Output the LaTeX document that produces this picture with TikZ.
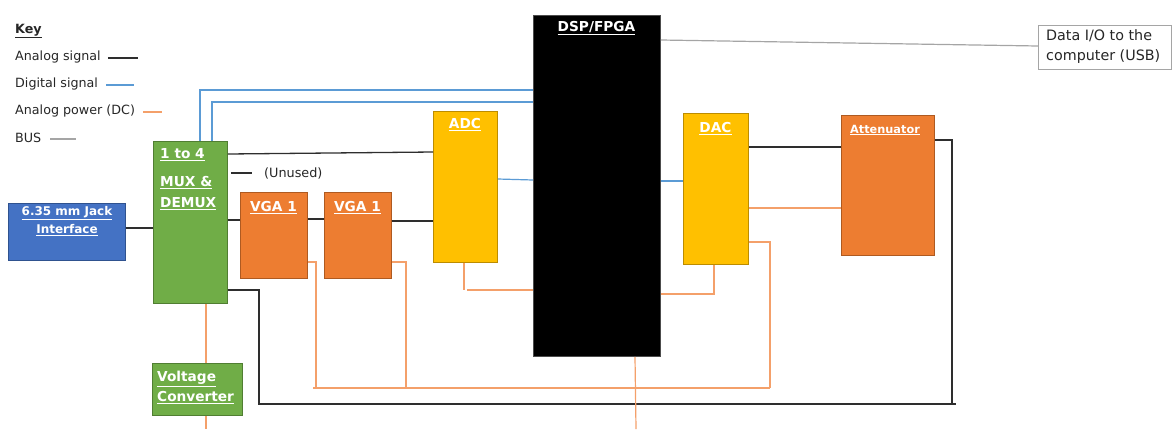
\documentclass[tikz,border=0pt]{standalone}
\usepackage{fontspec}
\setmainfont{DejaVu Sans}
\usetikzlibrary{calc}
\definecolor{cgreen}{HTML}{70AD47}
\definecolor{cgreenb}{HTML}{507E32}
\definecolor{corange}{HTML}{ED7D31}
\definecolor{coranged}{HTML}{AE5A21}
\definecolor{cyellow}{HTML}{FFC000}
\definecolor{cyellowd}{HTML}{BC8C00}
\definecolor{cblue}{HTML}{4472C4}
\definecolor{cblued}{HTML}{2F528F}
\definecolor{cdig}{HTML}{5B9BD5}
\definecolor{cpow}{HTML}{F4A06A}
\definecolor{cbus}{HTML}{A5A5A5}
\definecolor{cana}{HTML}{2E2E2E}
\begin{document}
\begin{tikzpicture}[x=1pt,y=-1pt,
  blk/.style={draw, line width=0.9pt, anchor=north west, inner sep=0pt},
  greenblk/.style={blk, fill=cgreen, draw=cgreenb},
  orangeblk/.style={blk, fill=corange, draw=coranged},
  yellowblk/.style={blk, fill=cyellow, draw=cyellowd},
  blueblk/.style={blk, fill=cblue, draw=cblued},
  title/.style={font=\bfseries\fontsize{13.7}{16}\selectfont, text=white, inner sep=0pt},
  keytext/.style={font=\fontsize{12.7}{15}\selectfont, anchor=west, inner sep=0pt, text=black!85},
  analog/.style={draw=cana, line width=1.3pt},
  digital/.style={draw=cdig, line width=1.2pt},
  power/.style={draw=cpow, line width=1.2pt},
  bus/.style={draw=cbus, line width=1.2pt}
]
\useasboundingbox (0,0) rectangle (1172,429);

% Key
\node[keytext, font=\bfseries\fontsize{12.7}{15}\selectfont] (key) at (15,31) {\underline{Key}};
\node[keytext] (ka) at (15,57) {Analog signal};
\node[keytext] (kd) at (15,84) {Digital signal};
\node[keytext] (kp) at (15,111) {Analog power (DC)};
\node[keytext] (kb) at (15,138) {BUS};
\draw[analog] ([xshift=7pt,yshift=-1pt]ka.east) -- ++(30,0);
\draw[digital] ([xshift=8pt,yshift=-1pt]kd.east) -- ++(28,0);
\draw[power] ([xshift=8pt,yshift=-1pt]kp.east) -- ++(19,0);
\draw[bus] ([xshift=9pt,yshift=-1pt]kb.east) -- ++(26,0);

% Blocks
\node[blueblk, minimum width=117pt, minimum height=57pt] (jack) at (8,203) {};
\node[greenblk, minimum width=74pt, minimum height=162pt] (mux) at (153,141) {};
\node[greenblk, minimum width=90pt, minimum height=52pt] (vc) at (152,363) {};
\node[orangeblk, minimum width=67pt, minimum height=86pt] (vgaa) at (240,192) {};
\node[orangeblk, minimum width=67pt, minimum height=86pt] (vgab) at (324,192) {};
\node[yellowblk, minimum width=64pt, minimum height=151pt] (adc) at (433,111) {};
\node[blk, fill=black, draw=black!70, minimum width=127pt, minimum height=341pt] (dsp) at (533,15) {};
\node[yellowblk, minimum width=65pt, minimum height=151pt] (dac) at (683,113) {};
\node[orangeblk, minimum width=93pt, minimum height=140pt] (att) at (841,115) {};
\node[blk, fill=white, draw=cbus, line width=0.8pt, minimum width=133pt, minimum height=44pt] (dio) at (1038,25) {};

% Titles
\node[title, font=\bfseries\fontsize{12}{14}\selectfont] (tjack1) at (67,213) {\underline{6.35 mm Jack}};
\node[title, font=\bfseries\fontsize{12}{14}\selectfont] (tjack2) at (67,230) {\underline{Interface}};
\node[title, anchor=west] (tmux1) at (160,155) {\underline{1 to 4}};
\node[title, anchor=west] (tmux2) at (160,183) {\underline{MUX \&}};
\node[title, anchor=west] (tmux3) at (160,204) {\underline{DEMUX}};
\node[title, anchor=west] (tvc1) at (157,379) {\underline{Voltage}};
\node[title, anchor=west] (tvc2) at (157,398) {\underline{Converter}};
\node[title] (tvgaa) at (273.5,208) {\underline{VGA 1}};
\node[title] (tvgab) at (357.5,208) {\underline{VGA 1}};
\node[title] (tadc) at (465,125) {\underline{ADC}};
\node[title] (tdsp) at (596.5,28) {\underline{DSP/FPGA}};
\node[title] (tdac) at (715.5,129) {\underline{DAC}};
\node[title, font=\bfseries\fontsize{11.3}{13}\selectfont] (tatt) at (885,130) {\underline{Attenuator}};
\node[keytext, font=\fontsize{14.3}{20}\selectfont, align=left, anchor=north west] (tdio) at (1046,29) {Data I/O to the\\computer (USB)};

% Analog signal connectors
\draw[analog] (jack.east |- 0,228) -- (mux.west |- 0,228);
\draw[analog] (mux.east |- 0,154) -- (adc.west |- 0,152);
\node[keytext, font=\fontsize{12.8}{15}\selectfont] (unused) at (264,173) {(Unused)};
\draw[analog] (mux.east |- 0,173) ++(3,0) -- ([xshift=-12pt]unused.west);
\draw[analog] (mux.east |- 0,220) -- (vgaa.west |- 0,220);
\draw[analog] (vgaa.east |- 0,219) -- (vgab.west |- 0,219);
\draw[analog] (vgab.east |- 0,221) -- (adc.west |- 0,221);
\draw[analog] (dac.east |- 0,147) -- (att.west |- 0,147);
\draw[analog] (mux.east |- 0,290) -| (259,404) -| (952,140) -- (att.east |- 0,140);
\draw[analog] (952,404) -- (956,404);

% Digital connectors
\draw[digital] (mux.north -| 200,0) |- (dsp.west |- 0,90);
\draw[digital] (mux.north -| 212,0) |- (dsp.west |- 0,102);
\draw[digital] (adc.east |- 0,179) -- (dsp.west |- 0,180);
\draw[digital] (dsp.east |- 0,181) -- (dac.west |- 0,181);

% Bus
\draw[bus] (dsp.east |- 0,40) -- (dio.west |- 0,46);

% Power connectors
\draw[power] (mux.south -| 206,0) -- (vc.north -| 206,0);
\draw[power] (vc.south -| 206,0) -- (206,429);
\draw[power] (dsp.south -| 635,0) -- (636,429);
\draw[power] (adc.south -| 464,0) -- (464,290);
\draw[power] (467,290) -- (dsp.west |- 0,290);
\draw[power] (dac.south -| 714,0) |- (dsp.east |- 0,294);
\draw[power] (dac.east |- 0,208) -- (att.west |- 0,208);
\coordinate (pr) at (770,388);
\draw[power] (vgaa.east |- 0,262) -| (316,388);
\draw[power] (vgab.east |- 0,262) -| (406,388);
\draw[power] (dac.east |- 0,242) -| (pr);
\draw[power] (313,388) -- (pr);
\end{tikzpicture}
\end{document}
